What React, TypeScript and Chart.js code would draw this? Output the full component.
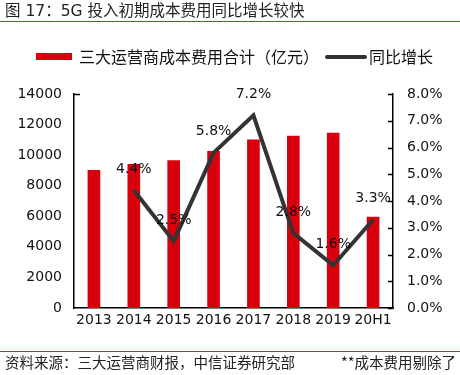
import React, { useEffect, useRef } from "react";
import { Chart, registerables } from "chart.js";

Chart.register(...registerables);

const categories = ["2013", "2014", "2015", "2016", "2017", "2018", "2019", "20H1"];
const costTotals = [9000, 9400, 9650, 10250, 11000, 11250, 11450, 5950];
const yoyGrowth: (number | null)[] = [null, 4.4, 2.5, 5.8, 7.2, 2.8, 1.6, 3.3];
const barLabel = "三大运营商成本费用合计（亿元）";
const lineLabel = "同比增长";
const titleText = "图 17：5G 投入初期成本费用同比增长较快";
const sourceText = "资料来源：三大运营商财报，中信证券研究部";
const noteText = "**成本费用剔除了";

const FONT = '"DejaVu Sans", "Noto Sans CJK SC", sans-serif';
const CJK = '"Noto Sans CJK SC", "DejaVu Sans", sans-serif';
const RED = "#d9000d";
const LINE = "#333333";

const decorPlugin = {
  id: "decor",
  afterDraw(chart: any) {
    const ctx = chart.ctx;
    const W = chart.width;
    ctx.save();
    // title
    ctx.fillStyle = "#222";
    ctx.font = `15.5px ${FONT}`;
    ctx.textAlign = "left";
    ctx.textBaseline = "middle";
    ctx.fillText(titleText, 5, 12);
    // red rules
    ctx.strokeStyle = "#d0282e";
    ctx.lineWidth = 1;
    ctx.beginPath();
    ctx.moveTo(0, 21.5);
    ctx.lineTo(W, 21.5);
    ctx.moveTo(0, 351.5);
    ctx.lineTo(W, 351.5);
    ctx.stroke();
    // legend
    ctx.fillStyle = RED;
    ctx.fillRect(36, 53, 36, 7);
    ctx.fillStyle = "#111";
    ctx.font = `16px ${CJK}`;
    ctx.fillText(barLabel, 79, 57);
    ctx.strokeStyle = LINE;
    ctx.lineWidth = 4;
    ctx.lineCap = "round";
    ctx.beginPath();
    ctx.moveTo(327, 57);
    ctx.lineTo(365, 57);
    ctx.stroke();
    ctx.fillText(lineLabel, 369, 57);
    // footer
    ctx.font = `14.5px ${CJK}`;
    ctx.fillStyle = "#222";
    ctx.textAlign = "left";
    ctx.fillText(sourceText, 5, 362);
    ctx.textAlign = "right";
    ctx.fillText(noteText, 456, 362);

    // axis tick marks
    const area = chart.chartArea;
    const yR = chart.scales.yR;
    ctx.strokeStyle = "#000";
    ctx.lineWidth = 1.5;
    ctx.lineCap = "butt";
    ctx.beginPath();
    for (let v = 0; v <= 8; v += 1) {
      const py = Math.round(yR.getPixelForValue(v)) + 0.5;
      ctx.moveTo(area.right - 5, py);
      ctx.lineTo(area.right, py);
    }
    const topY = Math.round(area.top) + 0.5;
    ctx.moveTo(area.left, topY);
    ctx.lineTo(area.left + 6, topY);
    ctx.stroke();

    // data labels
    const meta = chart.getDatasetMeta(1);
    ctx.fillStyle = "#111";
    ctx.font = `14px ${FONT}`;
    ctx.textAlign = "center";
    ctx.textBaseline = "middle";
    meta.data.forEach((pt: any, i: number) => {
      const v = yoyGrowth[i];
      if (v == null) return;
      ctx.fillText(v.toFixed(1) + "%", pt.x, pt.y - 21);
    });
    ctx.restore();
  },
};

export default function App() {
  const ref = useRef<HTMLCanvasElement>(null);
  useEffect(() => {
    if (!ref.current) return;
    const chart = new Chart(ref.current, {
      type: "bar",
      data: {
        labels: categories,
        datasets: [
          {
            type: "bar",
            label: barLabel,
            data: costTotals,
            backgroundColor: RED,
            barThickness: 12,
            yAxisID: "y",
            order: 2,
          },
          {
            type: "line",
            label: lineLabel,
            data: yoyGrowth,
            borderColor: LINE,
            borderWidth: 4,
            pointRadius: 0,
            tension: 0,
            yAxisID: "yR",
            order: 1,
          } as any,
        ],
      },
      options: {
        responsive: false,
        animation: false,
        devicePixelRatio: 1,
        layout: { padding: { top: 94, left: 0, right: 0, bottom: 0 } },
        plugins: {
          legend: { display: false },
          title: { display: false },
          tooltip: { enabled: false },
        },
        scales: {
          x: {
            grid: { display: false, drawTicks: false },
            border: { color: "#000", width: 1.5 },
            ticks: { color: "#111", font: { family: FONT, size: 14 }, padding: 4, maxRotation: 0, autoSkip: false },
            afterFit: (s: any) => { s.height = 67; },
          },
          y: {
            position: "left",
            min: 0,
            max: 14000,
            grid: { display: false, drawTicks: false },
            border: { color: "#000", width: 1.5 },
            ticks: {
              stepSize: 2000,
              color: "#111",
              font: { family: FONT, size: 14 },
              padding: 12,
              callback: (v: any) => String(v),
            },
            afterFit: (s: any) => { s.width = 74; },
          },
          yR: {
            position: "right",
            min: 0,
            max: 8,
            grid: { display: false, drawTicks: false },
            border: { color: "#000", width: 1.5 },
            ticks: {
              stepSize: 1,
              color: "#111",
              font: { family: FONT, size: 14 },
              padding: 14,
              callback: (v: any) => Number(v).toFixed(1) + "%",
            },
            afterFit: (s: any) => { s.width = 67; },
          },
        },
      },
      plugins: [decorPlugin],
    });
    return () => chart.destroy();
  }, []);
  return (
    <div style={{ position: "absolute", left: 0, top: 0, width: 460, height: 375, background: "#fff" }}>
      <canvas ref={ref} width={460} height={375} style={{ display: "block", width: 460, height: 375 }} />
    </div>
  );
}
